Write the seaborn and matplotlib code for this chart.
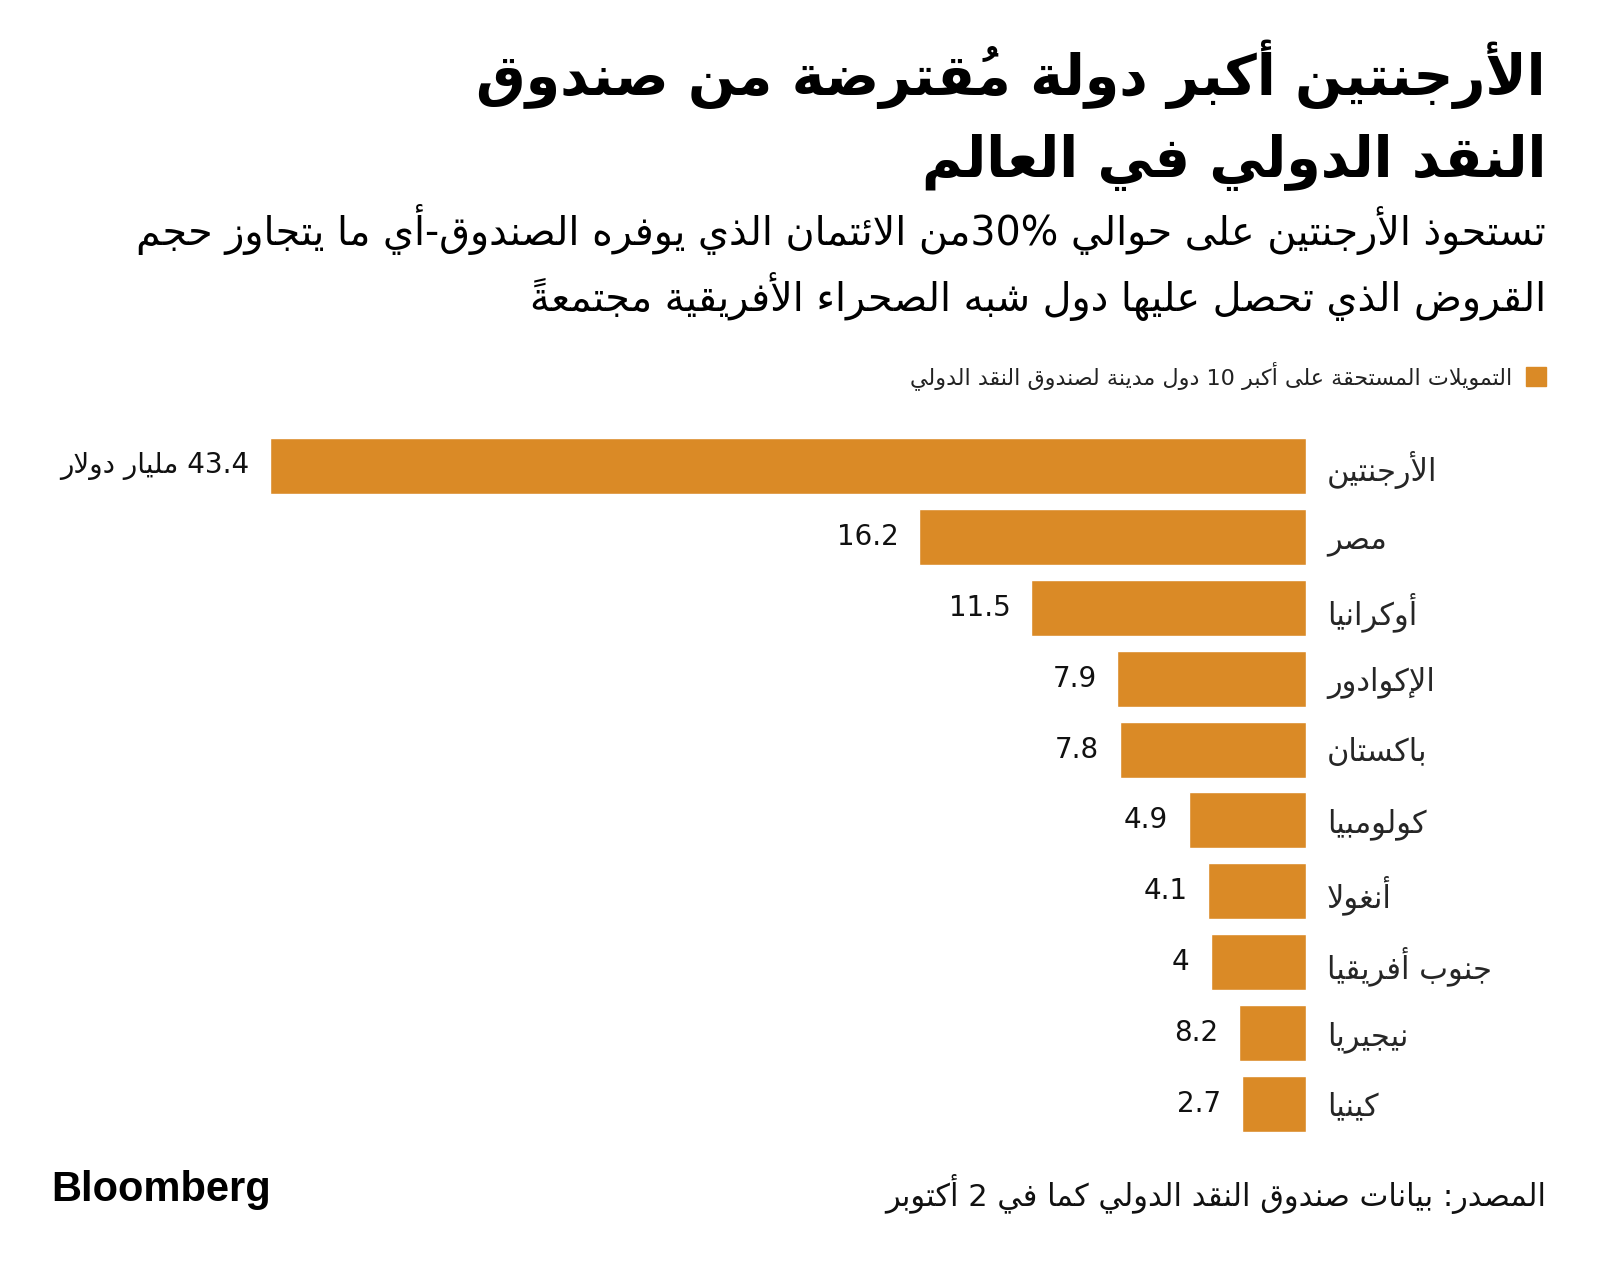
import matplotlib
matplotlib.use("Agg")
import matplotlib.pyplot as plt
import seaborn as sns
import pandas as pd

# data (billions of USD outstanding IMF credit)
countries = ["الأرجنتين", "مصر", "أوكرانيا", "الإكوادور", "باكستان",
             "كولومبيا", "أنغولا", "جنوب أفريقيا", "نيجيريا", "كينيا"]
credit = [43.4, 16.2, 11.5, 7.9, 7.8, 4.9, 4.1, 4.0, 2.8, 2.7]
# printed labels (the source prints 8.2 for Nigeria although the bar is ~2.8)
value_labels = ["43.4 مليار دولار", "16.2", "11.5", "7.9", "7.8",
                "4.9", "4.1", "4", "8.2", "2.7"]

title_lines = ["الأرجنتين أكبر دولة مُقترضة من صندوق", "النقد الدولي في العالم"]
subtitle_lines = ["تستحوذ الأرجنتين على حوالي 30%من الائتمان الذي يوفره الصندوق-أي ما يتجاوز حجم",
                  "القروض الذي تحصل عليها دول شبه الصحراء الأفريقية مجتمعةً"]
legend_text = "التمويلات المستحقة على أكبر 10 دول مدينة لصندوق النقد الدولي"
source_text = "المصدر: بيانات صندوق النقد الدولي كما في 2 أكتوبر"

BAR = "#DA8A26"

# matplotlib has no arabic shaping, so pick presentation forms by hand
ARABIC = {
    "\u0621": (0xFE80, "U"), "\u0622": (0xFE81, "R"), "\u0623": (0xFE83, "R"),
    "\u0624": (0xFE85, "R"), "\u0625": (0xFE87, "R"), "\u0626": (0xFE89, "D"),
    "\u0627": (0xFE8D, "R"), "\u0628": (0xFE8F, "D"), "\u0629": (0xFE93, "R"),
    "\u062A": (0xFE95, "D"), "\u062B": (0xFE99, "D"), "\u062C": (0xFE9D, "D"),
    "\u062D": (0xFEA1, "D"), "\u062E": (0xFEA5, "D"), "\u062F": (0xFEA9, "R"),
    "\u0630": (0xFEAB, "R"), "\u0631": (0xFEAD, "R"), "\u0632": (0xFEAF, "R"),
    "\u0633": (0xFEB1, "D"), "\u0634": (0xFEB5, "D"), "\u0635": (0xFEB9, "D"),
    "\u0636": (0xFEBD, "D"), "\u0637": (0xFEC1, "D"), "\u0638": (0xFEC5, "D"),
    "\u0639": (0xFEC9, "D"), "\u063A": (0xFECD, "D"), "\u0641": (0xFED1, "D"),
    "\u0642": (0xFED5, "D"), "\u0643": (0xFED9, "D"), "\u0644": (0xFEDD, "D"),
    "\u0645": (0xFEE1, "D"), "\u0646": (0xFEE5, "D"), "\u0647": (0xFEE9, "D"),
    "\u0648": (0xFEED, "R"), "\u0649": (0xFEEF, "R"), "\u064A": (0xFEF1, "D"),
}
LAM_ALEF = {"\u0622": 0xFEF5, "\u0623": 0xFEF7, "\u0625": 0xFEF9, "\u0627": 0xFEFB}


def is_mark(ch):
    return "\u064B" <= ch <= "\u0652" or ch == "\u0670"


def shape(text):
    cl = []
    for ch in text:
        if is_mark(ch) and cl:
            cl[-1] += ch
        else:
            cl.append(ch)
    res = []
    j = 0
    while j < len(cl):
        base, marks = cl[j][0], cl[j][1:]
        if base not in ARABIC:
            res.append(cl[j])
            j += 1
            continue
        start, kind = ARABIC[base]
        prev = cl[j - 1][0] if j > 0 else ""
        nxt = cl[j + 1][0] if j + 1 < len(cl) else ""
        joins_prev = prev in ARABIC and ARABIC[prev][1] == "D"
        if base == "\u0644" and nxt in LAM_ALEF:
            res.append(chr(LAM_ALEF[nxt] + (1 if joins_prev else 0)) + marks + cl[j + 1][1:])
            j += 2
            continue
        joins_next = kind == "D" and nxt in ARABIC and ARABIC[nxt][1] in "DR"
        if kind == "U":
            off = 0
        elif joins_prev and joins_next:
            off = 3
        elif joins_prev:
            off = 1
        elif joins_next:
            off = 2
        else:
            off = 0
        res.append(chr(start + off) + marks)
        j += 1
    return res


def ar(text):
    # simple rtl reordering: numbers stay left-to-right,
    # marks go before their letter so they sit on top of it
    runs = []
    for c in shape(text):
        ltr = c[0].isdigit() or c[0] in ".%"
        if runs and runs[-1][0] == ltr:
            runs[-1][1].append(c)
        else:
            runs.append((ltr, [c]))
    out = ""
    for ltr, cs in reversed(runs):
        if ltr:
            out += "".join(cs)
        else:
            out += "".join(c[1:] + c[0] for c in reversed(cs))
    return out


sns.set_style("white")
plt.rcParams["font.family"] = ["DejaVu Sans"]

W, H = 1600, 1265
fig = plt.figure(figsize=(W / 100, H / 100), dpi=100)

df = pd.DataFrame({"country": [ar(c) for c in countries], "credit": credit})

ax = fig.add_axes([270 / W, 1 - 1139 / H, 1036 / W, 708 / H])
sns.barplot(data=df, x="credit", y="country", orient="h", color=BAR,
            width=0.79, saturation=1, ax=ax)
ax.set_xlim(43.4, 0)
ax.set_ylim(9.5, -0.5)
sns.despine(ax=ax, left=True, bottom=True)
ax.set_xticks([])
ax.set_xlabel("")
ax.set_ylabel("")
ax.yaxis.tick_right()
ax.tick_params(axis="y", length=0, pad=15, labelsize=22)
for lab in ax.get_yticklabels():
    lab.set_horizontalalignment("left")
    lab.set_verticalalignment("center_baseline")

for i, (v, lab) in enumerate(zip(credit, value_labels)):
    ax.annotate(ar(lab), xy=(v, i), xytext=(-15, 0), textcoords="offset points",
                ha="right", va="center", fontsize=20, color="#111111")

# titles
fig.text(1546 / W, 1 - 95 / H, ar(title_lines[0]), ha="right", va="baseline",
         fontsize=40, fontweight="bold", color="black")
fig.text(1546 / W, 1 - 177 / H, ar(title_lines[1]), ha="right", va="baseline",
         fontsize=40, fontweight="bold", color="black")
fig.text(1546 / W, 1 - 245 / H, ar(subtitle_lines[0]), ha="right", va="baseline",
         fontsize=28.5, color="black")
fig.text(1546 / W, 1 - 311 / H, ar(subtitle_lines[1]), ha="right", va="baseline",
         fontsize=28.5, color="black")

# legend
fig.patches.append(plt.Rectangle((1526 / W, 1 - 386 / H), 20 / W, 19 / H,
                                 transform=fig.transFigure, color=BAR))
fig.text(1512 / W, 1 - 384 / H, ar(legend_text), ha="right", va="baseline",
         fontsize=16, color="#222222")

# footer
fig.text(51 / W, 1 - 1201 / H, "Bloomberg", ha="left", va="baseline",
         fontsize=30, fontweight="bold", family="Liberation Sans", color="black")
fig.text(1546 / W, 1 - 1206 / H, ar(source_text), ha="right", va="baseline",
         fontsize=22, color="#111111")

fig.savefig("out.png", dpi=100, facecolor="white")
